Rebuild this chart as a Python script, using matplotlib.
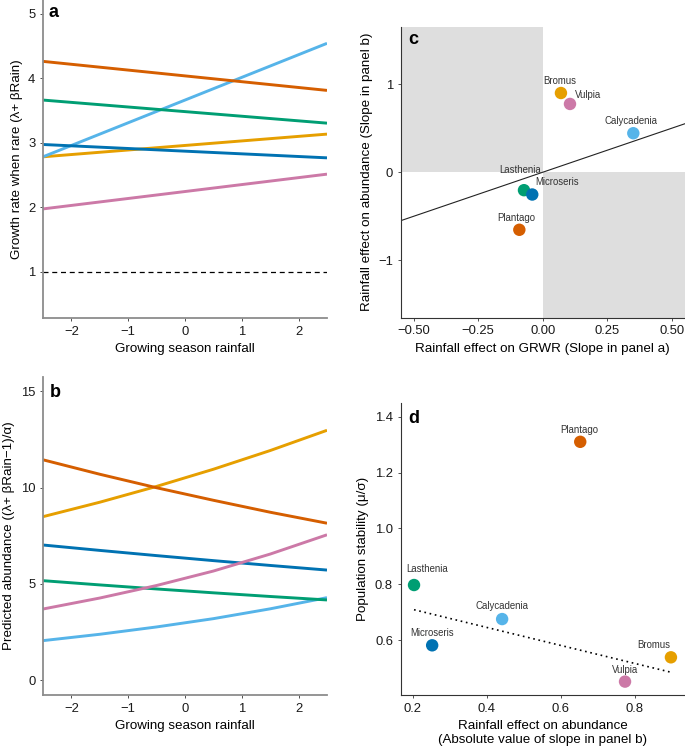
import matplotlib
matplotlib.use("Agg")
import matplotlib.pyplot as plt
import matplotlib.ticker as ticker
from matplotlib.patches import Rectangle
import numpy as np

plt.rcParams["font.family"] = ["Liberation Sans", "DejaVu Sans"]

# ---------------------------------------------------------------------------
# Data
# ---------------------------------------------------------------------------
species = ["Bromus", "Calycadenia", "Lasthenia", "Microseris", "Plantago", "Vulpia"]
colors = ["#E69F00", "#56B4E9", "#009E73", "#0072B2", "#D55E00", "#CC79A7"]

# panel a: growth rate when rare at the rainfall extremes
rain_ends = [-2.5, 2.5]
grwr_ends = {
    "Bromus":      [2.785, 3.137],
    "Calycadenia": [2.785, 4.545],
    "Lasthenia":   [3.665, 3.307],
    "Microseris":  [2.976, 2.769],
    "Plantago":    [4.265, 3.815],
    "Vulpia":      [1.977, 2.516],
}

# panel b: predicted abundance along rainfall
rain_b = [-2.5, -1.5, -0.5, 0.5, 1.5, 2.5]
abund_b = {
    "Bromus":      [8.49, 9.24, 10.06, 10.95, 11.92, 12.97],
    "Calycadenia": [2.06, 2.39, 2.77, 3.20, 3.71, 4.29],
    "Lasthenia":   [5.17, 4.95, 4.74, 4.54, 4.35, 4.17],
    "Microseris":  [7.02, 6.74, 6.47, 6.21, 5.96, 5.72],
    "Plantago":    [11.44, 10.69, 9.99, 9.34, 8.72, 8.15],
    "Vulpia":      [3.70, 4.27, 4.92, 5.67, 6.55, 7.55],
}

# panel c / d
grwr_slope = [0.070, 0.350, -0.073, -0.041, -0.091, 0.105]
abund_slope = [0.898, 0.442, -0.204, -0.253, -0.653, 0.774]
stability = [0.538, 0.675, 0.797, 0.581, 1.310, 0.451]

# label centre offsets in pixels (dx, dy) for panels c and d
offs_c = {"Bromus": (-1, 12), "Calycadenia": (-2, 12), "Lasthenia": (-4, 20),
          "Microseris": (25, 13), "Plantago": (-3, 12), "Vulpia": (18, 9)}
offs_d = {"Bromus": (-17, 12), "Calycadenia": (0, 13), "Lasthenia": (13, 16),
          "Microseris": (0, 12), "Plantago": (-1, 12), "Vulpia": (0, 12)}

W, H = 685, 751
fig = plt.figure(figsize=(W / 100, H / 100), dpi=100)


def px_axes(left, top, right, bottom):
    return fig.add_axes([left / W, 1 - bottom / H, (right - left) / W, (bottom - top) / H])


ax_a = px_axes(43, 0, 327, 318)
ax_c = px_axes(400.7, 26.7, 685, 317.7)
ax_b = px_axes(43, 376.7, 327, 695)
ax_d = px_axes(400.7, 403.3, 685, 695)

LBL = 9.6
TCK = 9.4
minus_fmt = ticker.FuncFormatter(lambda v, p: f"{v:.2f}".replace("-", "\u2212"))


def style(ax, spine_col, spine_lw):
    for s in ("top", "right"):
        ax.spines[s].set_visible(False)
    for s in ("left", "bottom"):
        ax.spines[s].set_color(spine_col)
        ax.spines[s].set_linewidth(spine_lw)
    ax.tick_params(length=2.5, width=0.6, color="#333333", labelsize=TCK,
                   labelcolor="#1a1a1a", pad=3)


def letter(ax, s, x, y):
    ax.text(x, y, s, transform=ax.transAxes, fontsize=13, fontweight="bold",
            va="baseline", ha="left")


def label_points(ax, xs, ys, offs):
    for sp, x, y in zip(species, xs, ys):
        dx, dy = offs[sp]
        ax.annotate(sp, (x, y), xytext=(dx * 0.72, dy * 0.72), textcoords="offset points",
                    ha="center", va="center", fontsize=6.9, color="#333333", zorder=4)


# ---- panel a ----
for sp, col in zip(species, colors):
    ax_a.plot(rain_ends, grwr_ends[sp], color=col, lw=2.1, solid_capstyle="butt")
ax_a.axhline(1, color="black", lw=0.9, ls=(0, (4, 3)))
ax_a.set_xlim(-2.5, 2.5)
ax_a.set_ylim(0.285, 5.217)
ax_a.set_yticks([1, 2, 3, 4, 5])
ax_a.set_xticks([-2, -1, 0, 1, 2])
ax_a.set_xlabel("Growing season rainfall", fontsize=LBL)
ax_a.set_ylabel("Growth rate when rare (\u03bb+ \u03b2Rain)", fontsize=LBL)
style(ax_a, "#8c8c8c", 1.3)
letter(ax_a, "a", 0.021, 0.9475)

# ---- panel b ----
for sp, col in zip(species, colors):
    ax_b.plot(rain_b, abund_b[sp], color=col, lw=2.1, solid_capstyle="butt")
ax_b.set_xlim(-2.5, 2.5)
ax_b.set_ylim(-0.76, 15.75)
ax_b.set_yticks([0, 5, 10, 15])
ax_b.set_xticks([-2, -1, 0, 1, 2])
ax_b.set_xlabel("Growing season rainfall", fontsize=LBL)
ax_b.set_ylabel("Predicted abundance ((\u03bb+ \u03b2Rain\u22121)/\u03b1)", fontsize=LBL)
style(ax_b, "#8c8c8c", 1.3)
letter(ax_b, "b", 0.025, 0.935)

# ---- panel c ----
xl, yl = (-0.55, 0.55), (-1.65, 1.65)
ax_c.set_xlim(*xl)
ax_c.set_ylim(*yl)
ax_c.add_patch(Rectangle((xl[0], 0), -xl[0], yl[1], color="#dedede", lw=0, zorder=0))
ax_c.add_patch(Rectangle((0, yl[0]), xl[1], -yl[0], color="#dedede", lw=0, zorder=0))
ax_c.axline((0, 0), slope=1, color="#222222", lw=0.8, zorder=1)
ax_c.scatter(grwr_slope, abund_slope, c=colors, s=80, zorder=3, linewidths=0)
label_points(ax_c, grwr_slope, abund_slope, offs_c)
ax_c.set_xticks([-0.5, -0.25, 0, 0.25, 0.5])
ax_c.xaxis.set_major_formatter(minus_fmt)
ax_c.set_yticks([-1, 0, 1])
ax_c.set_xlabel("Rainfall effect on GRWR (Slope in panel a)", fontsize=LBL)
ax_c.set_ylabel("Rainfall effect on abundance (Slope in panel b)", fontsize=LBL)
style(ax_c, "#333333", 0.8)
letter(ax_c, "c", 0.025, 0.94)

# ---- panel d ----
abs_slope = np.abs(abund_slope)
stab = np.array(stability)
keep = np.array([sp != "Plantago" for sp in species])
k, b0 = np.polyfit(abs_slope[keep], stab[keep], 1)
xs = np.array([abs_slope[keep].min(), abs_slope[keep].max()])
ax_d.plot(xs, k * xs + b0, color="black", lw=1.2, ls=(0, (1, 2.2)))
ax_d.scatter(abs_slope, stab, c=colors, s=80, zorder=3, linewidths=0)
label_points(ax_d, abs_slope, stab, offs_d)
ax_d.set_xlim(0.168, 0.936)
ax_d.set_ylim(0.403, 1.448)
ax_d.set_xticks([0.2, 0.4, 0.6, 0.8])
ax_d.set_yticks([0.6, 0.8, 1.0, 1.2, 1.4])
ax_d.set_xlabel("Rainfall effect on abundance\n(Absolute value of slope in panel b)",
                fontsize=LBL, linespacing=1.2)
ax_d.set_ylabel("Population stability (\u03bc/\u03c3)", fontsize=LBL)
style(ax_d, "#333333", 0.8)
letter(ax_d, "d", 0.025, 0.931)

fig.savefig("out.png", dpi=100)
